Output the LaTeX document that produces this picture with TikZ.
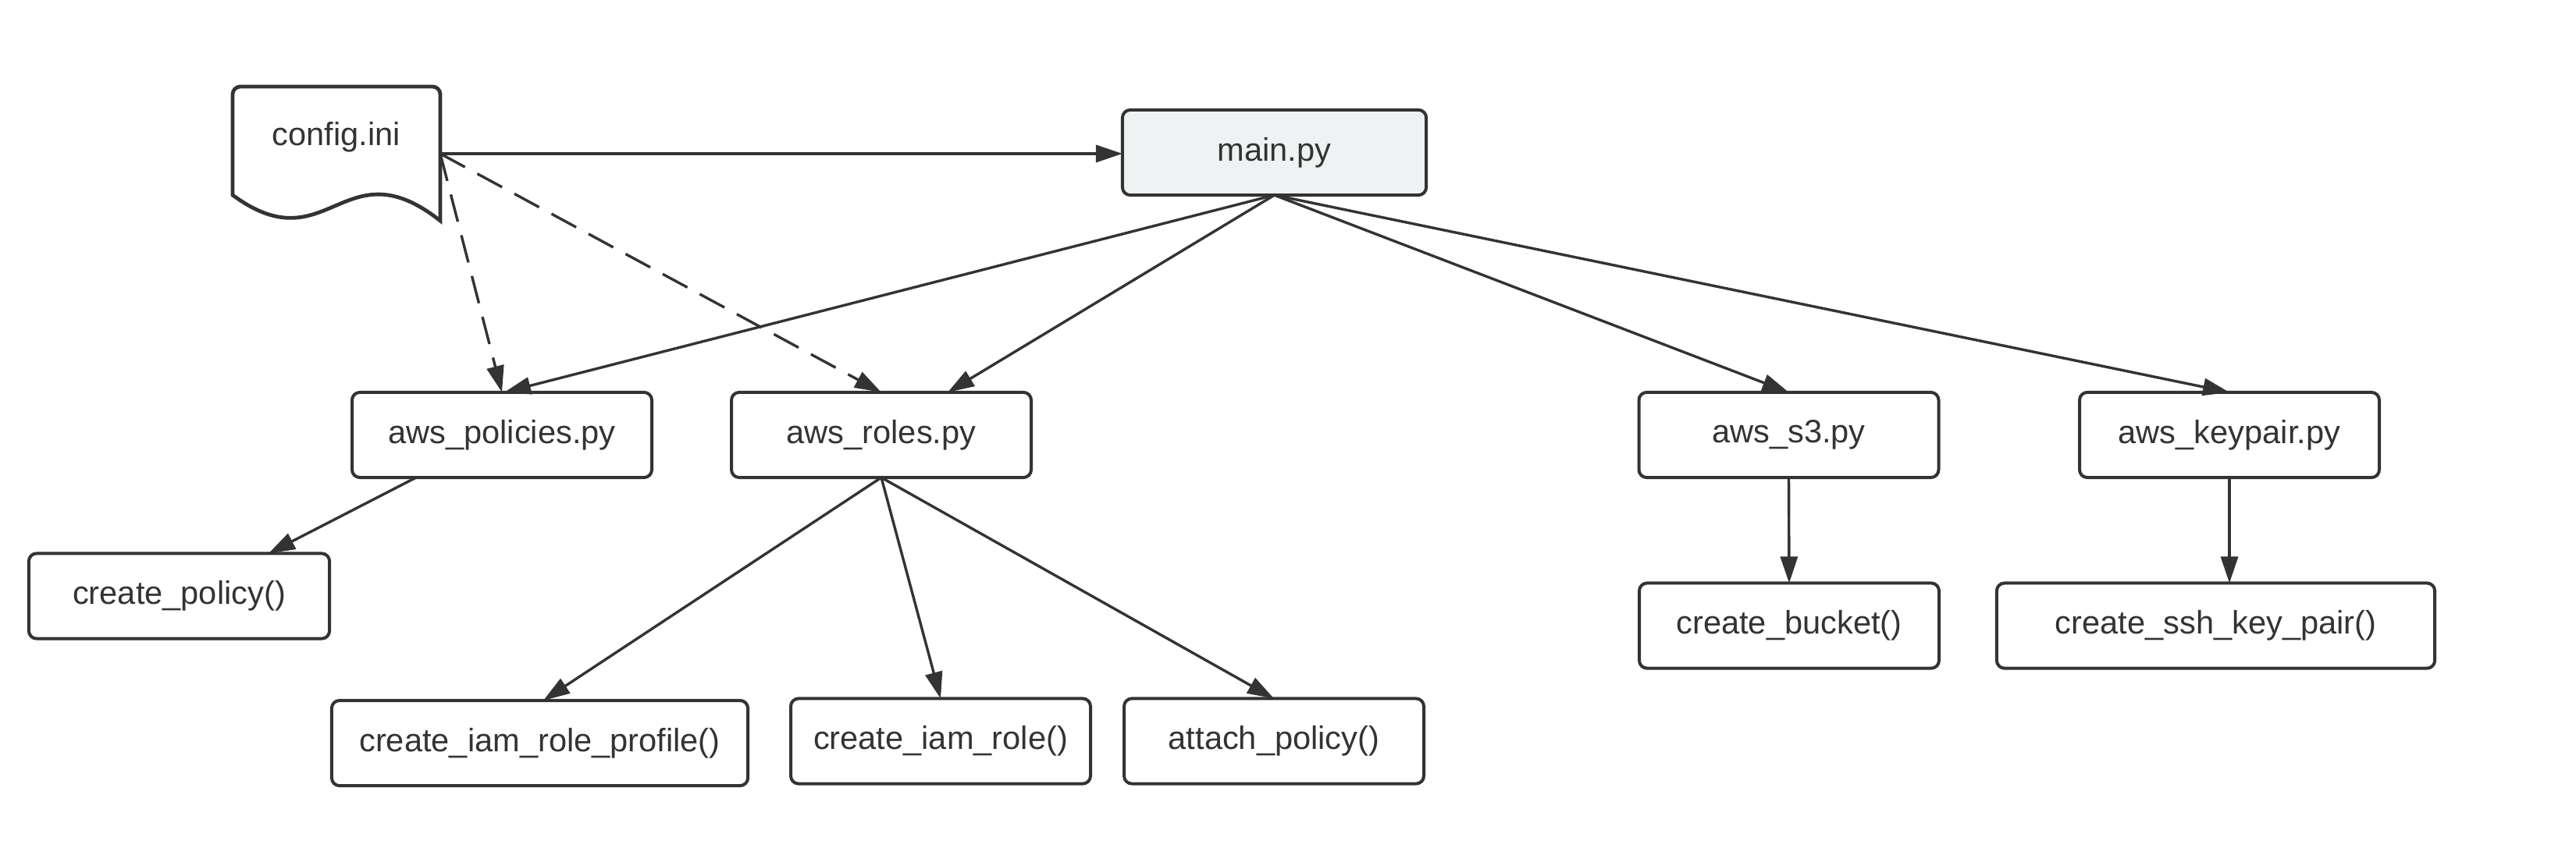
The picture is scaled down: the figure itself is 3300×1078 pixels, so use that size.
\documentclass[tikz,border=0pt]{standalone}
\usepackage{fontspec}
\setmainfont{Liberation Sans}
\usetikzlibrary{arrows.meta,calc}
\definecolor{ink}{HTML}{333333}
\definecolor{mainfill}{HTML}{EFF2F3}
\begin{document}
\begin{tikzpicture}[x=0.25pt,y=-0.25pt,
  box/.style={draw=ink,line width=1pt,rounded corners=2.5pt,fill=white,
    text=ink,font=\fontsize{10.4pt}{12pt}\selectfont,inner sep=0pt,outer sep=0pt,
    minimum height=27.3pt},
  conn/.style={draw=ink,line width=0.85pt,-{Triangle[length=8.5pt,width=5.5pt]}},
  dconn/.style={conn,dash pattern=on 9pt off 4.5pt}]
\useasboundingbox (0,0) rectangle (3300,1078);
% config.ini document shape
\draw[ink,line width=1.2pt,fill=white,rounded corners=2.5pt]
  (298,250) -- (298,111) -- (564,111) [sharp corners] -- (564,283)
  .. controls (440,185) and (420,340) .. (298,250) -- cycle;
\node[text=ink,font=\fontsize{10.4pt}{12pt}\selectfont] (cfg) at (431,176) {config.ini};
\coordinate (cfgR) at (564,197);
% boxes
\node[box,fill=mainfill,minimum width=97.3pt] (main) at (1632.5,195.5) {main.py};
\node[box,minimum width=96pt] (pol) at (643,557.5) {aws\_policies.py};
\node[box,minimum width=96pt] (roles) at (1129,557.5) {aws\_roles.py};
\node[box,minimum width=96pt] (s3) at (2291.5,557.5) {aws\_s3.py};
\node[box,minimum width=96pt] (kp) at (2856,557.5) {aws\_keypair.py};
\node[box,minimum width=96.3pt] (cp) at (229.5,764) {create\_policy()};
\node[box,minimum width=133.3pt] (prof) at (691.5,952.5) {create\_iam\_role\_profile()};
\node[box,minimum width=96pt] (role) at (1205,950) {create\_iam\_role()};
\node[box,minimum width=96pt] (att) at (1632,950) {attach\_policy()};
\node[box,minimum width=96pt] (bucket) at (2292,802) {create\_bucket()};
\node[box,minimum width=140.3pt] (ssh) at (2838.5,802) {create\_ssh\_key\_pair()};
% connectors
\draw[conn] (cfgR) -- (cfgR -| main.west);
\draw[dconn] (cfgR) -- (pol.north);
\draw[dconn] (cfgR) -- (roles.north);
\draw[conn] (main.south) -- ($(pol.north)+(3,0)$);
\draw[conn] (main.south) -- ($(roles.north)+(85,0)$);
\draw[conn] (main.south) -- (s3.north);
\draw[conn] (main.south) -- (kp.north);
\draw[conn] ($(pol.south)+(-110,0)$) -- ($(cp.north)+(114.5,0)$);
\draw[conn] (roles.south) -- ($(prof.north)+(4.5,0)$);
\draw[conn] (roles.south) -- (role.north);
\draw[conn] (roles.south) -- (att.north);
\draw[conn] (s3.south) -- (bucket.north);
\draw[conn] (kp.south) -- (kp.south |- ssh.north);
\end{tikzpicture}
\end{document}
